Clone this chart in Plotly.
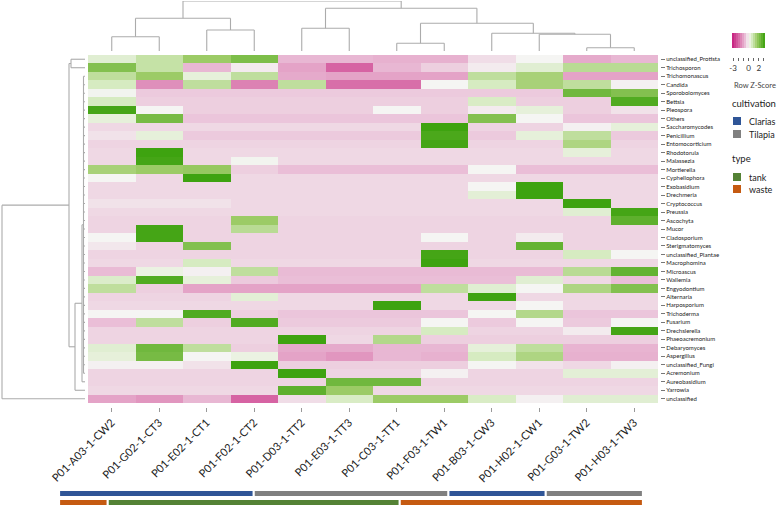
import plotly.graph_objects as go
import numpy as np

W, H = 778, 507


def px_x(x):
    return x / W


def px_y(y):
    return 1 - y / H


# ---------------- data ----------------
samples = ["P01-A03-1-CW2", "P01-G02-1-CT3", "P01-E02-1-CT1", "P01-F02-1-CT2",
           "P01-D03-1-TT2", "P01-E03-1-TT3", "P01-C03-1-TT1", "P01-F03-1-TW1",
           "P01-B03-1-CW3", "P01-H02-1-CW1", "P01-G03-1-TW2", "P01-H03-1-TW3"]

cultivation = ["Clarias", "Clarias", "Clarias", "Clarias", "Tilapia", "Tilapia",
               "Tilapia", "Tilapia", "Clarias", "Clarias", "Tilapia", "Tilapia"]

sample_type = ["waste", "tank", "tank", "tank", "tank", "tank",
               "tank", "waste", "waste", "waste", "waste", "waste"]

taxa = ["unclassified_Protista", "Trichosporon", "Trichomonascus", "Candida",
        "Sporobolomyces", "Bettsia", "Pleospora", "Others", "Saccharomycodes",
        "Penicillium", "Entomocorticium", "Rhodotorula", "Malassezia", "Mortierella",
        "Cyphellophora", "Exobasidium", "Drechmeria", "Cryptococcus", "Preussia",
        "Ascochyta", "Mucor", "Cladosporium", "Sterigmatomyces", "unclassified_Plantae",
        "Macrophomina", "Microascus", "Wallemia", "Engyodontium", "Alternaria",
        "Harposporium", "Trichoderma", "Fusarium", "Drechslerella", "Phaeoacremonium",
        "Debaryomyces", "Aspergillus", "unclassified_Fungi", "Acremonium",
        "Aureobasidium", "Yarrowia", "unclassified"]

# row z-scores (rows = taxa, columns = samples in display order)
zscore = [
    [0.4, 0.9, 1.6, 2.1, -0.7, -0.7, -0.8, -0.8, -0.25, 0.0, -0.9, -0.7],
    [2.0, 0.9, -0.7, -0.1, -1.0, -2.0, -0.7, -0.4, -0.1, 0.4, 1.1, 1.1],
    [1.0, 1.6, 0.3, 1.0, -0.9, -1.0, -1.0, -1.0, 1.0, 1.4, -1.0, -1.0],
    [0.6, -1.3, 1.0, -1.5, 1.0, -1.8, -1.8, 0.0, 0.6, 1.4, 1.0, -0.05],
    [0.05, -0.45, -0.45, -0.45, -0.45, -0.45, -0.45, -0.45, -0.45, -0.45, 2.3, 2.0],
    [0.6, -0.4, -0.4, -0.4, -0.4, -0.4, -0.4, -0.4, 0.55, -0.4, -0.4, 2.8],
    [3.0, 0.0, -0.4, -0.4, -0.4, -0.4, 0.0, -0.4, -0.1, 0.3, -0.4, -0.2],
    [0.3, 2.2, -0.5, -0.5, -0.5, -0.5, -0.5, -0.5, 2.0, 0.0, -0.5, -0.5],
    [-0.3, -0.3, -0.3, -0.3, -0.3, -0.3, -0.3, 3.1, -0.35, -0.35, -0.05, 0.3],
    [-0.2, 0.3, -0.45, -0.45, -0.45, -0.45, -0.45, 2.9, -0.45, 0.3, 1.0, -0.45],
    [-0.35, -0.35, -0.35, -0.35, -0.35, -0.35, -0.35, 3.0, -0.35, -0.35, 1.3, -0.35],
    [-0.3, 3.1, -0.3, -0.3, -0.3, -0.3, -0.3, -0.3, -0.3, -0.3, 0.3, -0.3],
    [-0.3, 3.0, -0.3, 0.05, -0.3, -0.3, -0.3, -0.3, -0.3, -0.3, -0.3, -0.3],
    [1.4, 1.6, 1.7, -0.4, -0.6, -0.6, -0.6, -0.6, 0.0, -0.6, -0.6, -0.6],
    [0.0, -0.3, 3.1, -0.3, -0.3, -0.3, -0.3, -0.3, -0.3, -0.3, -0.3, -0.3],
    [-0.3, -0.3, -0.3, -0.3, -0.3, -0.3, -0.3, -0.3, 0.0, 3.1, -0.3, -0.3],
    [-0.3, -0.3, -0.3, -0.3, -0.3, -0.3, -0.3, -0.3, 0.35, 3.1, -0.3, -0.3],
    [-0.2, -0.2, -0.2, -0.3, -0.3, -0.3, -0.3, -0.3, -0.3, -0.3, 3.1, -0.3],
    [-0.3, -0.3, -0.3, -0.3, -0.3, -0.3, -0.3, -0.3, -0.3, -0.3, 0.4, 3.0],
    [-0.35, -0.35, -0.35, 1.6, -0.35, -0.35, -0.35, -0.35, -0.35, -0.35, -0.35, 2.6],
    [-0.35, 3.0, -0.35, 1.1, -0.35, -0.35, -0.35, -0.35, -0.35, -0.35, -0.35, -0.35],
    [0.0, 3.0, -0.35, -0.35, -0.35, -0.35, -0.35, 0.0, -0.35, -0.1, -0.35, -0.35],
    [-0.15, -0.35, 2.0, -0.35, -0.35, -0.35, -0.35, -0.35, -0.35, 2.5, -0.35, -0.35],
    [-0.35, -0.35, -0.35, -0.35, -0.35, -0.35, -0.35, 3.0, -0.35, -0.35, 0.6, 0.0],
    [-0.3, -0.3, 0.6, -0.3, -0.3, -0.3, -0.3, 3.1, -0.3, -0.3, -0.3, -0.3],
    [-0.65, 0.2, -0.05, 1.0, -0.65, -0.65, -0.65, -0.65, -0.65, -0.65, 1.1, 2.5],
    [0.5, 2.8, 0.3, -0.45, -0.6, -0.6, -0.6, -0.6, -0.6, 0.4, -0.3, -0.6],
    [1.0, -0.4, -1.0, -1.0, -1.0, -1.0, -1.0, 1.0, 0.4, 0.0, 1.3, 2.0],
    [-0.35, -0.35, -0.35, 0.35, -0.3, -0.3, -0.3, -0.3, 3.1, -0.3, -0.3, -0.3],
    [-0.3, -0.3, -0.3, -0.3, -0.3, -0.3, 3.1, -0.3, -0.3, 0.0, -0.3, -0.3],
    [0.0, 0.0, 2.8, -0.4, -0.5, -0.5, -0.5, -0.5, 0.0, 1.2, -0.5, -0.5],
    [-0.6, 1.0, -0.4, 2.8, -0.45, -0.45, -0.45, 0.0, -0.45, 0.0, -0.45, 0.0],
    [-0.35, -0.35, -0.35, -0.35, -0.35, -0.35, -0.35, 0.6, -0.35, -0.35, -0.1, 3.0],
    [-0.35, -0.35, -0.35, -0.35, 3.1, -0.3, 1.2, -0.4, -0.4, -0.4, -0.4, -0.4],
    [0.4, 2.3, 1.0, -0.4, -0.9, -0.9, -0.7, -0.7, 0.3, 1.0, -0.75, -0.75],
    [0.3, 2.2, 0.0, 0.2, -1.0, -1.2, -0.7, -0.8, 0.6, 1.3, -0.8, -0.8],
    [-0.05, -0.05, -0.2, 3.1, -0.4, -0.4, -0.4, -0.4, 0.0, -0.2, -0.3, -0.05],
    [-0.35, -0.35, -0.35, -0.35, 3.1, -0.35, -0.35, -0.05, -0.35, -0.35, 0.35, 0.35],
    [-0.35, -0.35, -0.35, -0.35, -0.35, 2.3, 2.3, -0.35, -0.35, -0.35, -0.35, -0.35],
    [-0.3, -0.3, -0.3, -0.3, 2.6, 1.6, -0.3, -0.3, -0.3, -0.3, -0.3, -0.3],
    [-1.0, -1.2, -0.7, -2.0, -0.25, 0.55, 1.6, 1.6, 0.55, -0.05, 0.4, 0.4],
]

# column dendrogram merges: (children, height)  ids 0..11 leaves, new ids from 12
col_merges = [
    ([0, 1], 14.3),
    ([2, 3], 21.0),
    ([12, 13], 32.7),
    ([4, 5], 22.7),
    ([6, 7], 7.7),
    ([10, 11], 3.3),
    ([9, 17], 16.7),
    ([8, 18], 17.7),
    ([16, 19], 27.7),
    ([15, 20], 42.7),
    ([14, 21], 50.0),
]

# row dendrogram merges: ids 0..40 leaves, new ids from 41
row_merges = [
    ([0, 1], 17.0),
    ([2, 3, 4, 5, 6, 7, 8, 9, 10, 11, 12, 13, 14, 15, 16, 17, 18, 19, 20, 21,
      22, 23, 24, 25, 26, 27, 28, 29, 30, 31, 32, 33, 34, 35, 36, 37], 4.5),
    ([42, 38], 6.0),
    ([43, 39], 13.0),
    ([41, 44], 19.0),
    ([45, 40], 86.0),
]

zlim = 3.2
colorscale = [[0.0, "#C51B7D"], [0.25, "#DB7BAF"], [0.42, "#EBC4DA"],
              [0.5, "#F5F5F3"], [0.6, "#D4EABE"], [0.75, "#9CCB66"], [1.0, "#38A00A"]]

cult_colors = {"Clarias": "#2F5597", "Tilapia": "#808080"}
type_colors = {"tank": "#548235", "waste": "#C55A11"}

FONT = "Lato, 'Liberation Sans', Arial, sans-serif"
DENDRO_COLOR = "#ABABAB"


def dendro_segments(n_leaves, merges, leaf_h):
    pos = {i: float(i) for i in range(n_leaves)}
    hgt = {i: leaf_h for i in range(n_leaves)}
    sp, sh = [], []
    nid = n_leaves
    for children, h in merges:
        ps = [pos[c] for c in children]
        for c in children:
            sp += [pos[c], pos[c], None]
            sh += [hgt[c], h, None]
        sp += [min(ps), max(ps), None]
        sh += [h, h, None]
        pos[nid] = (min(ps) + max(ps)) / 2
        hgt[nid] = h
        nid += 1
    return sp, sh


def runs(vals):
    out = []
    start = 0
    for i in range(1, len(vals) + 1):
        if i == len(vals) or vals[i] != vals[start]:
            out.append((start, i - 1, vals[start]))
            start = i
    return out


fig = go.Figure()

# main heatmap
fig.add_trace(go.Heatmap(
    z=zscore, x=list(range(len(samples))), y=list(range(len(taxa))),
    colorscale=colorscale, zmin=-zlim, zmax=zlim, showscale=False,
    xaxis="x", yaxis="y", hoverinfo="skip"))

# column dendrogram
cx, ch = dendro_segments(len(samples), col_merges, 0.0)
fig.add_trace(go.Scatter(x=cx, y=ch, mode="lines", xaxis="x2", yaxis="y2",
                         line=dict(color=DENDRO_COLOR, width=1.1), hoverinfo="skip",
                         showlegend=False))

# row dendrogram
ry, rh = dendro_segments(len(taxa), row_merges, 3.0)
fig.add_trace(go.Scatter(x=rh, y=ry, mode="lines", xaxis="x3", yaxis="y3",
                         line=dict(color=DENDRO_COLOR, width=1.1), hoverinfo="skip",
                         showlegend=False))

# annotation bars
gap = 0.045
for vals, cmap, base in [(cultivation, cult_colors, 9), (sample_type, type_colors, 0)]:
    rr = runs(vals)
    fig.add_trace(go.Bar(
        x=[(s + e) / 2 for s, e, v in rr],
        y=[5 for _ in rr],
        base=[base for _ in rr],
        width=[(e - s + 1) - gap for s, e, v in rr],
        marker=dict(color=[cmap[v] for s, e, v in rr], line=dict(width=0)),
        xaxis="x4", yaxis="y4", hoverinfo="skip", showlegend=False))

# colour key
key_vals = list(np.linspace(-3.0, 3.0, 16))
fig.add_trace(go.Heatmap(z=[key_vals], x=key_vals, y=[0], colorscale=colorscale,
                         zmin=-zlim, zmax=zlim, showscale=False,
                         xaxis="x5", yaxis="y5", hoverinfo="skip"))

hm_x = [px_x(88), px_x(658)]
hm_y = [px_y(403), px_y(55)]

fig.update_layout(
    width=W, height=H, margin=dict(l=0, r=0, t=0, b=0),
    paper_bgcolor="white", plot_bgcolor="white",
    font=dict(family=FONT, color="#222"),
    showlegend=False, barmode="overlay",
    xaxis=dict(domain=hm_x, range=[-0.5, len(samples) - 0.5],
               tickmode="array", tickvals=list(range(len(samples))), ticktext=samples,
               tickangle=-45, ticks="outside", ticklen=4, tickcolor="#999",
               tickfont=dict(size=11, color="#222"),
               anchor="free", position=px_y(407), showgrid=False, zeroline=False,
               showline=False, automargin=False),
    yaxis=dict(domain=hm_y, range=[len(taxa) - 0.5, -0.5],
               tickmode="array", tickvals=list(range(len(taxa))), ticktext=taxa,
               side="right", anchor="free", position=px_x(660),
               ticks="outside", ticklen=4, tickcolor="#777",
               tickfont=dict(size=6, color="#222"),
               showgrid=False, zeroline=False, showline=False, automargin=False),
    xaxis2=dict(domain=hm_x, range=[-0.5, len(samples) - 0.5], visible=False,
                anchor="y2"),
    yaxis2=dict(domain=[px_y(51), px_y(1)], range=[0, 50], visible=False,
                anchor="x2"),
    xaxis3=dict(domain=[0, px_x(88)], range=[88, 0], visible=False, anchor="y3"),
    yaxis3=dict(domain=hm_y, range=[len(taxa) - 0.5, -0.5], visible=False,
                anchor="x3"),
    xaxis4=dict(domain=[px_x(59), px_x(643)], range=[-0.5, len(samples) - 0.5],
                visible=False, anchor="y4"),
    yaxis4=dict(domain=[px_y(505), px_y(491)], range=[0, 14], visible=False,
                anchor="x4"),
    xaxis5=dict(domain=[px_x(732), px_x(765)], range=[-zlim, zlim],
                tickmode="array", tickvals=[-3, -2, -1, 0, 1, 2, 3],
                ticktext=["-3", "", "", "0", "", "2", ""],
                ticks="outside", ticklen=3, tickcolor="#666",
                tickfont=dict(size=8, color="#333"),
                anchor="free", position=px_y(57), showgrid=False,
                zeroline=False, showline=False, automargin=False),
    yaxis5=dict(domain=[px_y(48), px_y(33)], visible=False, anchor="x5"),
)

annotations = [
    dict(text="Row Z-Score", x=px_x(732), y=px_y(86), font=dict(size=7.5, color="#444")),
    dict(text="cultivation", x=px_x(730), y=px_y(104), font=dict(size=9.5, color="#222")),
    dict(text="type", x=px_x(730), y=px_y(158), font=dict(size=9.5, color="#222")),
]
shapes = []
legend_items = [("Clarias", cult_colors["Clarias"], 121),
                ("Tilapia", cult_colors["Tilapia"], 134),
                ("tank", type_colors["tank"], 177),
                ("waste", type_colors["waste"], 189)]
for label, col, yc in legend_items:
    shapes.append(dict(type="rect", xref="paper", yref="paper",
                       x0=px_x(733), x1=px_x(741), y0=px_y(yc + 4), y1=px_y(yc - 4),
                       fillcolor=col, line=dict(width=0)))
    annotations.append(dict(text=label, x=px_x(747), y=px_y(yc),
                            font=dict(size=9, color="#222")))

for a in annotations:
    a.update(xref="paper", yref="paper", xanchor="left", yanchor="middle",
             showarrow=False)

fig.update_layout(annotations=annotations, shapes=shapes)

post = ("document.body.style.margin='0px';"
        "document.body.style.padding='0px';"
        "document.body.style.overflow='hidden';"
        "document.documentElement.style.margin='0px';")

fig.write_html("out.html", post_script=post,
               config={"responsive": False, "displayModeBar": False})
